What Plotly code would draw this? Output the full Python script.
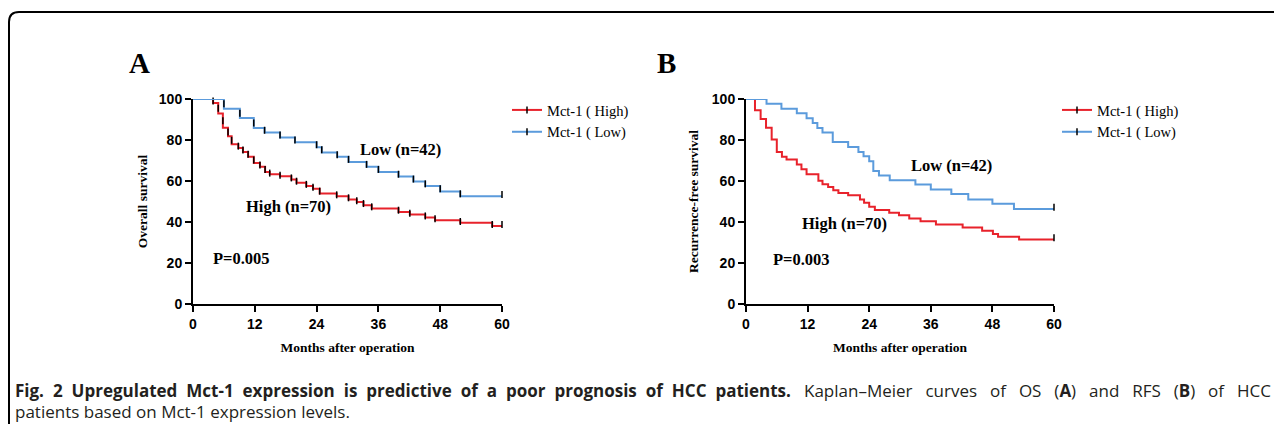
import plotly.graph_objects as go

# page is photographed at 1282x432; the body has an 8px margin, so the figure is 16px smaller
PAGE_W, PAGE_H = 1282, 432
OFF = 8
W, H = PAGE_W - 2 * OFF, PAGE_H - 2 * OFF

# ---------------- data ----------------
months_ticks = [0, 12, 24, 36, 48, 60]
surv_ticks = [0, 20, 40, 60, 80, 100]

# Panel A: overall survival
os_high_t = [3.9, 4.9, 5.8, 6.8, 7.5, 8.8, 9.7, 10.7, 11.8, 13.0, 14.0, 14.9, 16.9, 19.1,
             20.1, 22.0, 23.3, 24.6, 27.9, 30.2, 31.8, 33.1, 34.7, 39.9, 42.1, 45.1, 47.0,
             51.9, 58.1]
os_high_s = [98.1, 92.9, 86.0, 81.8, 77.9, 76.1, 74.2, 71.8, 68.8, 66.9, 64.4, 63.3, 62.3, 60.7,
             59.1, 57.6, 56.2, 53.9, 52.6, 51.0, 49.8, 48.2, 46.6, 44.9, 43.7, 42.2, 40.9,
             39.6, 38.0]
os_low_t = [6.0, 9.1, 11.8, 13.9, 16.9, 19.8, 24.0, 25.0, 28.0, 30.2, 33.7, 36.0, 39.9,
            42.8, 45.1, 48.0, 51.9]
os_low_s = [95.3, 90.7, 85.9, 83.6, 81.2, 78.9, 76.5, 73.9, 71.8, 69.3, 66.9, 64.4, 62.2,
            59.7, 57.5, 54.9, 52.6]

# Panel B: recurrence-free survival
rfs_high_t = [1.75, 2.85, 3.9, 5.0, 6.0, 7.0, 7.9, 9.9, 10.8, 11.8, 14.1, 14.9, 16.0, 17.0,
              18.0, 19.9, 22.2, 23.0, 24.0, 25.1, 27.9, 29.8, 31.8, 34.0, 37.0, 42.2, 46.0,
              48.1, 49.1, 53.2]
rfs_high_s = [94.5, 90.3, 86.0, 80.2, 74.2, 71.8, 70.5, 68.0, 65.7, 63.3, 60.1, 58.4, 57.1,
              55.5, 54.2, 53.1, 51.0, 49.4, 47.4, 45.8, 44.5, 43.3, 41.7, 40.4, 38.8, 37.3,
              35.7, 34.1, 32.8, 31.5]
rfs_low_t = [4.0, 6.9, 9.9, 11.8, 13.0, 13.9, 14.9, 16.9, 19.9, 21.9, 22.9, 24.0, 24.8, 25.9,
             28.0, 33.0, 36.0, 40.0, 43.3, 48.0, 52.2]
rfs_low_s = [97.7, 95.3, 93.0, 90.6, 88.3, 85.9, 83.6, 79.0, 76.6, 74.2, 72.1, 69.6, 64.9,
             62.7, 60.4, 58.3, 55.8, 53.6, 51.0, 48.9, 46.4]

# censor ticks
os_high_cens = os_high_t + [60]
os_low_cens = os_low_t + [60]
rfs_high_cens = [60]
rfs_low_cens = [60]

follow_up = 60
names = ["Mct-1 ( High)", "Mct-1 ( Low)"]

caption_bold = "Fig. 2 Upregulated Mct-1 expression is predictive of a poor prognosis of HCC patients."
caption_rest_1 = "Kaplan–Meier curves of OS (<b>A</b>) and RFS (<b>B</b>) of HCC"
caption_rest_2 = "patients based on Mct-1 expression levels."

RED = "#e8222b"
BLUE = "#5b9bdc"
SERIF = "Liberation Serif, Times New Roman, serif"
SANS = "Liberation Sans, Arial, sans-serif"


def step_xy(t, s):
    return [0] + list(t) + [follow_up], [100] + list(s) + [s[-1]]


def cens_y(t, s, ct):
    out = []
    for c in ct:
        prev = 100.0
        val = 100.0
        for ti, si in zip(t, s):
            if ti <= c:
                prev = val
                val = si
        if c in t:
            out.append((prev + val) / 2)
        else:
            out.append(val + 0.8)
    return out


fig = go.Figure()

panels = [
    ("x", "y", os_high_t, os_high_s, os_high_cens, os_low_t, os_low_s, os_low_cens, "legend"),
    ("x2", "y2", rfs_high_t, rfs_high_s, rfs_high_cens, rfs_low_t, rfs_low_s, rfs_low_cens, "legend2"),
]

tick_marker = dict(symbol="line-ns", size=5, color="black", line=dict(color="black", width=1.5))

for xa, ya, ht, hs, hc, lt, ls, lc, leg in panels:
    for t, s, c, col in [(ht, hs, hc, RED), (lt, ls, lc, BLUE)]:
        sx, sy = step_xy(t, s)
        fig.add_trace(go.Scatter(x=sx, y=sy, mode="lines", line=dict(color=col, width=2, shape="hv"),
                                 xaxis=xa, yaxis=ya, showlegend=False, cliponaxis=False,
                                 hoverinfo="skip"))
        fig.add_trace(go.Scatter(x=c, y=cens_y(t, s, c), mode="markers", marker=tick_marker,
                                 xaxis=xa, yaxis=ya, showlegend=False, cliponaxis=False,
                                 hoverinfo="skip"))
    for nm, col in zip(names, [RED, BLUE]):
        fig.add_trace(go.Scatter(x=[None], y=[None], mode="lines+markers", name=nm,
                                 line=dict(color=col, width=2), marker=tick_marker,
                                 xaxis=xa, yaxis=ya, legend=leg))


def px_x(p):
    return (p - OFF) / W


def px_y(p):
    return 1 - (p - OFF) / H


axis_common = dict(showline=True, linecolor="black", linewidth=2, ticks="outside", ticklen=6,
                   tickwidth=2, tickcolor="black", showgrid=False, zeroline=False,
                   tickfont=dict(family=SANS, size=14, color="black", weight="bold"))

title_font = dict(family=SERIF, size=13.5, color="black", weight="bold")

fig.update_layout(
    width=W, height=H, margin=dict(l=0, r=0, t=0, b=0, autoexpand=False),
    paper_bgcolor="white", plot_bgcolor="white",
    xaxis=dict(domain=[px_x(193), px_x(502)], range=[0, 60], tickvals=months_ticks, anchor="y",
               title=dict(text="Months after operation", font=title_font, standoff=12), **axis_common),
    yaxis=dict(domain=[px_y(304), px_y(99)], range=[0, 100], tickvals=surv_ticks, anchor="x",
               title=dict(text="Overall survival", font=title_font, standoff=8), **axis_common),
    xaxis2=dict(domain=[px_x(746), px_x(1054)], range=[0, 60], tickvals=months_ticks, anchor="y2",
                title=dict(text="Months after operation", font=title_font, standoff=12), **axis_common),
    yaxis2=dict(domain=[px_y(304), px_y(99)], range=[0, 100], tickvals=surv_ticks, anchor="x2",
                title=dict(text="Recurrence-free survival", font=title_font, standoff=10), **axis_common),
    legend=dict(x=px_x(507), y=px_y(94), xanchor="left", yanchor="top",
                font=dict(family=SERIF, size=14.5, color="black"), bgcolor="rgba(0,0,0,0)",
                itemwidth=30, tracegroupgap=0),
    legend2=dict(x=px_x(1057), y=px_y(94), xanchor="left", yanchor="top",
                 font=dict(family=SERIF, size=14.5, color="black"), bgcolor="rgba(0,0,0,0)",
                 itemwidth=30, tracegroupgap=0),
    showlegend=True,
)

ann_font = dict(family=SERIF, size=16.5, color="black", weight="bold")
labels = [
    ("x", "y", 40.2, 75.6, "Low (n=42)"),
    ("x", "y", 18.6, 47.8, "High (n=70)"),
    ("x", "y", 9.5, 22.4, "P=0.005"),
    ("x2", "y2", 40.1, 67.8, "Low (n=42)"),
    ("x2", "y2", 19.1, 39.5, "High (n=70)"),
    ("x2", "y2", 10.9, 21.5, "P=0.003"),
]
for xr, yr, xv, yv, txt in labels:
    fig.add_annotation(x=xv, y=yv, xref=xr, yref=yr, text=txt, showarrow=False, font=ann_font)

for xp, txt in [(127, "A"), (666, "B")]:
    fig.add_annotation(x=px_x(xp), y=px_y(45), xref="paper", yref="paper", text=txt,
                       showarrow=False, font=dict(family=SERIF, size=29, color="black", weight="bold"))

# justified first caption line: widen the word gaps
bold_line = caption_bold.replace(" ", " \u2009\u200a")
rest_line = caption_rest_1.replace(" ", " \u2002")

cap_font = dict(family="Open Sans, sans-serif", size=17, color="#231f20")
fig.add_annotation(x=px_x(14), y=px_y(390), xref="paper", yref="paper", xanchor="left",
                   yanchor="middle", showarrow=False, font=cap_font, borderpad=0,
                   text=f"<b>{bold_line}</b>")
fig.add_annotation(x=px_x(1272), y=px_y(390), xref="paper", yref="paper", xanchor="right",
                   yanchor="middle", showarrow=False, font=cap_font, borderpad=0,
                   text=rest_line)
fig.add_annotation(x=px_x(14), y=0, xref="paper", yref="paper", xanchor="left",
                   yanchor="bottom", showarrow=False, font=cap_font, borderpad=0,
                   text=caption_rest_2)

# frame with rounded top-left corner
x0 = px_x(9)
yt = px_y(12)
fig.add_shape(type="path", xref="paper", yref="paper",
              path=f"M {x0},0 L {x0},{px_y(22)} Q {x0},{yt} {px_x(19)},{yt} L 1,{yt}",
              line=dict(color="black", width=2))

fig.write_html("out.html")
